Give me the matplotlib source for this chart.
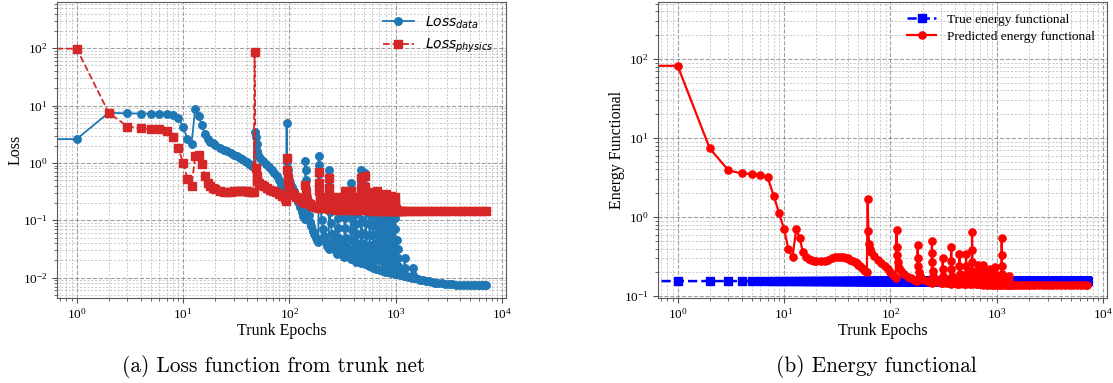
import numpy as np
import matplotlib
matplotlib.use("Agg")
import matplotlib.pyplot as plt
from matplotlib.font_manager import FontProperties

plt.rcParams['font.family'] = ['Liberation Serif', 'DejaVu Serif']
plt.rcParams['mathtext.fontset'] = 'stix'

# ---------------- data (epoch, value) ----------------
# Loss_data (left panel, blue)
loss_data_early = [(0, 2.6), (1, 2.6), (2, 7.5), (3, 7.3), (4, 7.25), (5, 7.25), (6, 7.2), (7, 7.2),
                   (8, 6.9), (9, 6.1), (10, 4.3), (11, 2.6), (12, 2.17), (13, 8.7), (14, 6.6),
                   (15, 4.5), (16, 3.2), (17, 2.6), (18, 2.3), (19, 2.2), (20, 2.05), (22, 1.85),
                   (24, 1.7), (26, 1.58), (28, 1.47), (30, 1.38), (32, 1.3), (34, 1.22), (36, 1.15),
                   (38, 1.08), (40, 1.02), (42, 0.96), (44, 0.9), (46, 0.84)]
loss_data_mid = [(47, 3.5), (48, 2.8), (49, 2.15), (50, 1.6), (51, 1.35), (53, 1.2), (56, 1.07),
                 (60, 0.95), (64, 0.85), (68, 0.75), (72, 0.66), (76, 0.58), (80, 0.5), (84, 0.42),
                 (88, 0.35), (91, 0.3), (93, 0.27),
                 (94, 4.9), (95, 1.05), (96, 0.75), (97, 0.62), (99, 0.5), (102, 0.44), (106, 0.38),
                 (110, 0.32), (115, 0.26), (120, 0.21), (125, 0.17), (130, 0.14), (135, 0.12), (140, 0.105)]
loss_data_cycles = [
    (141, 1.1), (142, 0.74), (143, 0.5), (144, 0.36), (146, 0.25), (149, 0.17), (152, 0.125), (156, 0.095),
    (160, 0.078), (165, 0.066), (170, 0.057), (176, 0.05), (182, 0.045), (187, 0.041),
    (188, 1.34), (189, 0.93), (190, 0.63), (191, 0.42), (193, 0.26), (196, 0.16), (200, 0.1), (205, 0.07),
    (211, 0.053), (218, 0.043), (226, 0.036), (234, 0.031),
    (235, 0.74), (236, 0.5), (237, 0.33), (238, 0.22), (240, 0.14), (244, 0.088), (250, 0.058), (257, 0.043),
    (265, 0.034), (273, 0.029), (281, 0.026),
    (282, 0.25), (283, 0.16), (284, 0.11), (286, 0.072), (290, 0.05), (296, 0.038), (304, 0.031),
    (315, 0.026), (328, 0.023),
    (329, 0.26), (330, 0.17), (331, 0.11), (333, 0.072), (337, 0.049), (343, 0.036), (352, 0.028),
    (364, 0.024), (375, 0.021),
    (376, 0.44), (377, 0.28), (378, 0.18), (380, 0.11), (384, 0.068), (390, 0.045), (398, 0.032),
    (409, 0.025), (422, 0.019),
    (423, 0.2), (424, 0.13), (426, 0.085), (429, 0.057), (434, 0.04), (442, 0.029), (455, 0.022), (469, 0.018),
    (470, 0.75), (471, 0.46), (472, 0.29), (474, 0.17), (477, 0.1), (482, 0.06), (490, 0.039), (500, 0.028),
    (508, 0.021), (516, 0.0172),
    (517, 0.68), (518, 0.41), (519, 0.26), (521, 0.15), (524, 0.09), (529, 0.055), (537, 0.036),
    (548, 0.025), (563, 0.016),
    (564, 0.2), (565, 0.13), (567, 0.085), (570, 0.056), (576, 0.037), (585, 0.026), (598, 0.019), (610, 0.015),
    (611, 0.12), (612, 0.08), (614, 0.055), (618, 0.039), (625, 0.028), (636, 0.021), (657, 0.0142),
    (658, 0.22), (659, 0.14), (661, 0.09), (664, 0.058), (669, 0.04), (677, 0.028), (690, 0.02), (704, 0.0135),
    (705, 0.15), (706, 0.1), (708, 0.066), (712, 0.044), (719, 0.031), (731, 0.022), (751, 0.013),
    (752, 0.12), (753, 0.08), (756, 0.054), (761, 0.037), (770, 0.026), (784, 0.018), (798, 0.0127),
    (799, 0.13), (800, 0.085), (803, 0.056), (808, 0.038), (817, 0.026), (831, 0.018), (845, 0.0124),
    (846, 0.12), (847, 0.079), (850, 0.052), (856, 0.036), (866, 0.025), (880, 0.017), (892, 0.012),
    (893, 0.1), (894, 0.067), (897, 0.045), (903, 0.032), (913, 0.023), (927, 0.016), (939, 0.0118),
    (940, 0.11), (941, 0.072), (944, 0.048), (950, 0.033), (960, 0.023), (974, 0.016), (986, 0.0116),
    (987, 0.11), (988, 0.07), (991, 0.046), (997, 0.031), (1007, 0.022), (1020, 0.015), (1033, 0.0114),
    (1034, 0.046), (1036, 0.031), (1040, 0.022), (1050, 0.016), (1065, 0.0128), (1090, 0.0112)]
loss_data_tail = [(1150, 0.011), (1200, 0.0108), (1210, 0.022), (1212, 0.015), (1220, 0.0112),
                  (1250, 0.0106), (1300, 0.0104), (1350, 0.0102), (1420, 0.0099), (1440, 0.0145),
                  (1445, 0.011), (1500, 0.0097), (1600, 0.0094), (1700, 0.0092), (1800, 0.009),
                  (1900, 0.0088), (2050, 0.0086), (2200, 0.0084), (2350, 0.0082), (2500, 0.0081),
                  (2700, 0.0079), (2900, 0.0078), (3150, 0.0077), (3400, 0.0076), (3700, 0.0075),
                  (4000, 0.0075), (4400, 0.0074), (4800, 0.0074), (5200, 0.0073), (5600, 0.0073),
                  (6000, 0.0073), (6400, 0.0073), (6800, 0.0073), (7100, 0.0073)]

# Loss_physics (left panel, red)
loss_phys_early = [(0, 98), (1, 98), (2, 7.5), (3, 4.3), (4, 4.0), (5, 3.9), (6, 3.85), (7, 3.66),
                   (8, 2.88), (9, 1.85), (10, 1.01), (11, 0.53), (12, 0.39), (13, 1.32), (14, 1.38),
                   (15, 0.96), (16, 0.6), (17, 0.45), (18, 0.4), (19, 0.37), (20, 0.345), (22, 0.33),
                   (24, 0.315), (26, 0.31), (28, 0.312), (30, 0.318), (32, 0.322), (34, 0.325),
                   (36, 0.325), (38, 0.322), (40, 0.318), (42, 0.314), (44, 0.31), (46, 0.305)]
loss_phys_mid = [(47, 85), (48, 0.82), (49, 0.6), (50, 0.5), (52, 0.45), (55, 0.41), (58, 0.39),
                 (62, 0.36), (66, 0.34), (70, 0.33), (75, 0.31), (80, 0.29), (85, 0.26), (90, 0.24),
                 (93, 0.22),
                 (94, 1.22), (95, 0.76), (96, 0.55), (97, 0.45), (99, 0.38), (102, 0.33), (106, 0.3),
                 (110, 0.28), (116, 0.255), (122, 0.24), (128, 0.225), (134, 0.21), (140, 0.2)]
loss_phys_cycles = [
    (141, 0.42), (142, 0.3), (143, 0.25), (145, 0.22), (150, 0.2), (156, 0.19), (163, 0.18), (170, 0.175),
    (178, 0.17), (187, 0.165),
    (188, 0.7), (189, 0.45), (190, 0.32), (192, 0.25), (195, 0.21), (200, 0.19), (207, 0.175), (215, 0.167),
    (224, 0.161), (234, 0.157),
    (235, 0.55), (236, 0.36), (237, 0.27), (239, 0.22), (243, 0.19), (250, 0.172), (258, 0.163),
    (268, 0.157), (281, 0.153),
    (282, 0.25), (283, 0.2), (285, 0.18), (290, 0.166), (298, 0.158), (310, 0.153), (328, 0.15),
    (329, 0.32), (330, 0.24), (332, 0.2), (336, 0.175), (343, 0.162), (355, 0.155), (375, 0.15),
    (376, 0.32), (377, 0.24), (379, 0.2), (383, 0.175), (390, 0.162), (402, 0.155), (422, 0.149),
    (423, 0.25), (424, 0.2), (426, 0.18), (431, 0.165), (440, 0.156), (455, 0.151), (469, 0.148),
    (470, 0.54), (471, 0.36), (472, 0.27), (474, 0.22), (478, 0.185), (485, 0.167), (496, 0.157), (516, 0.15),
    (517, 0.58), (518, 0.38), (519, 0.28), (521, 0.22), (525, 0.185), (532, 0.166), (545, 0.156), (563, 0.149),
    (564, 0.22), (565, 0.19), (568, 0.17), (575, 0.158), (588, 0.151), (610, 0.147),
    (611, 0.31), (612, 0.23), (614, 0.19), (618, 0.172), (626, 0.16), (640, 0.152), (657, 0.147),
    (658, 0.33), (659, 0.24), (661, 0.2), (665, 0.175), (673, 0.161), (687, 0.152), (704, 0.146),
    (705, 0.22), (706, 0.19), (709, 0.17), (716, 0.157), (730, 0.15), (751, 0.146),
    (752, 0.22), (753, 0.19), (756, 0.17), (763, 0.157), (777, 0.15), (798, 0.145),
    (799, 0.29), (800, 0.22), (802, 0.185), (807, 0.168), (816, 0.157), (830, 0.15), (845, 0.145),
    (846, 0.2), (847, 0.18), (850, 0.165), (858, 0.154), (873, 0.148), (892, 0.145),
    (893, 0.27), (894, 0.21), (896, 0.18), (901, 0.165), (911, 0.155), (925, 0.149), (939, 0.145),
    (940, 0.2), (941, 0.18), (944, 0.165), (952, 0.154), (967, 0.148), (986, 0.145),
    (987, 0.25), (988, 0.2), (990, 0.175), (996, 0.16), (1007, 0.151), (1020, 0.147), (1033, 0.145)]
loss_phys_tail = [(1060, 0.144), (1100, 0.144), (1150, 0.144), (1200, 0.143), (1300, 0.143),
                  (1420, 0.143), (1550, 0.143), (1700, 0.143), (1850, 0.143), (2050, 0.143),
                  (2250, 0.143), (2500, 0.143), (2750, 0.143), (3050, 0.143), (3400, 0.143),
                  (3800, 0.143), (4200, 0.143), (4700, 0.143), (5200, 0.143), (5800, 0.143),
                  (6400, 0.143), (7100, 0.143)]

# Energy functional (right panel)
true_energy_value = 0.155
true_energy_last_epoch = 7100
pred_energy_early = [(0, 82), (1, 82), (2, 7.4), (3, 3.9), (4, 3.57), (5, 3.5), (6, 3.4), (7, 3.18),
                     (8, 1.85), (9, 1.11), (10, 0.7), (11, 0.39), (12, 0.31), (13, 0.7), (14, 0.55),
                     (15, 0.36), (16, 0.315), (17, 0.295), (18, 0.285), (19, 0.28), (20, 0.275),
                     (22, 0.275), (24, 0.28), (26, 0.29), (28, 0.3), (30, 0.31), (32, 0.315), (34, 0.315),
                     (36, 0.31), (38, 0.305), (40, 0.3), (42, 0.29), (44, 0.28), (46, 0.27), (48, 0.26),
                     (50, 0.25), (52, 0.24), (54, 0.228), (56, 0.215), (58, 0.205), (60, 0.2)]
pred_energy_cycles = [
    (61, 1.7), (62, 0.67), (63, 0.46), (64, 0.4), (66, 0.36), (70, 0.32), (76, 0.286), (82, 0.26),
    (88, 0.24), (94, 0.22), (100, 0.2), (106, 0.185), (112, 0.17),
    (114, 0.68), (115, 0.42), (116, 0.33), (118, 0.27), (121, 0.23), (126, 0.21), (135, 0.19), (145, 0.176),
    (155, 0.168), (165, 0.162), (175, 0.158), (179, 0.156),
    (180, 0.44), (181, 0.3), (182, 0.24), (184, 0.2), (188, 0.18), (195, 0.168), (205, 0.16), (220, 0.154),
    (235, 0.15), (244, 0.148),
    (245, 0.5), (246, 0.35), (247, 0.27), (249, 0.21), (253, 0.18), (260, 0.165), (270, 0.157), (285, 0.151),
    (300, 0.147), (309, 0.146),
    (310, 0.3), (311, 0.22), (313, 0.18), (317, 0.162), (325, 0.153), (340, 0.147), (355, 0.145), (371, 0.144),
    (372, 0.42), (373, 0.28), (374, 0.22), (376, 0.18), (380, 0.162), (390, 0.152), (405, 0.147),
    (425, 0.144), (443, 0.143),
    (444, 0.34), (445, 0.24), (447, 0.19), (450, 0.168), (458, 0.155), (472, 0.148), (490, 0.144), (512, 0.142),
    (513, 0.34), (514, 0.24), (516, 0.19), (520, 0.165), (528, 0.153), (542, 0.147), (560, 0.143), (583, 0.141),
    (584, 0.65), (585, 0.38), (586, 0.27), (588, 0.21), (592, 0.175), (600, 0.158), (615, 0.149),
    (635, 0.144), (659, 0.141),
    (660, 0.25), (661, 0.2), (663, 0.17), (668, 0.155), (678, 0.147), (695, 0.143), (715, 0.141), (735, 0.14),
    (736, 0.25), (737, 0.2), (739, 0.17), (745, 0.155), (757, 0.147), (775, 0.143), (804, 0.14),
    (805, 0.2), (806, 0.17), (810, 0.155), (820, 0.146), (840, 0.141), (869, 0.139),
    (870, 0.22), (871, 0.18), (874, 0.16), (880, 0.15), (895, 0.143), (920, 0.14), (965, 0.139),
    (966, 0.235), (967, 0.19), (970, 0.165), (978, 0.152), (995, 0.145), (1030, 0.14), (1070, 0.138),
    (1109, 0.138),
    (1110, 0.54), (1111, 0.33), (1112, 0.24), (1115, 0.19), (1120, 0.165), (1135, 0.15), (1160, 0.143),
    (1200, 0.14), (1250, 0.138), (1309, 0.137),
    (1310, 0.18), (1312, 0.155), (1320, 0.145), (1340, 0.14), (1380, 0.138)]
pred_energy_tail = [(1450, 0.137), (1550, 0.137), (1650, 0.137), (1750, 0.137), (1880, 0.137),
                    (2000, 0.137), (2150, 0.137), (2300, 0.137), (2500, 0.137), (2700, 0.137),
                    (2900, 0.137), (3150, 0.137), (3400, 0.137), (3700, 0.137), (4000, 0.137),
                    (4400, 0.137), (4800, 0.137), (5200, 0.137), (5700, 0.137), (6200, 0.137),
                    (6700, 0.137), (7100, 0.137)]

captions = ['(a) Loss function from trunk net', '(b) Energy functional']


def xy(*segments):
    pts = [p for seg in segments for p in seg]
    return np.array([p[0] for p in pts], float), np.array([p[1] for p in pts], float)


ld_x, ld_y = xy(loss_data_early, loss_data_mid, loss_data_cycles, loss_data_tail)
lp_x, lp_y = xy(loss_phys_early, loss_phys_mid, loss_phys_cycles, loss_phys_tail)
pe_x, pe_y = xy(pred_energy_early, pred_energy_cycles, pred_energy_tail)
te_x = np.arange(0, true_energy_last_epoch + 1)
te_y = np.full(te_x.shape, true_energy_value)

# ---------------- figure ----------------
W, H = 1113, 383
fig = plt.figure(figsize=(W / 100, H / 100), dpi=100)
ax_w, ax_h = 449 / W, 296 / H
ax_b = (H - 297.7) / H
ax1 = fig.add_axes([57 / W, ax_b, ax_w, ax_h])
ax2 = fig.add_axes([658 / W, ax_b, ax_w, ax_h])

ax1.plot(ld_x, ld_y, '-o', color='tab:blue', ms=5.4, lw=1.3, label=r'$Loss_{data}$')
ax1.plot(lp_x, lp_y, '--s', color='tab:red', ms=5.4, lw=1.3, label=r'$Loss_{physics}$')

ax2.plot(te_x, te_y, '--s', color='blue', ms=5.4, lw=1.8, label='True energy functional')
ax2.plot(pe_x, pe_y, '-o', color='red', ms=5.2, lw=1.6, label='Predicted energy functional')

for ax in (ax1, ax2):
    ax.set_xscale('log')
    ax.set_yscale('log')
    ax.set_xlim(10 ** -0.185, 10 ** 4.035)
    ax.grid(True, which='major', linestyle='--', color='0.5', alpha=0.75, lw=0.8)
    ax.grid(True, which='minor', linestyle=(0, (2.5, 2)), color='0.6', alpha=0.6, lw=0.6)
    ax.set_axisbelow(True)
    for s in ax.spines.values():
        s.set_color('0.35')
    ax.tick_params(which='both', colors='0.3', labelcolor='black', labelsize=9.5)
    ax.set_xlabel('Trunk Epochs', fontsize=11.5, labelpad=1)

ax1.set_ylim(10 ** -2.35, 10 ** 2.81)
ax2.set_ylim(10 ** -1.02, 10 ** 2.725)
ax1.set_ylabel('Loss', fontsize=11.5, labelpad=-1)
ax2.set_ylabel('Energy Functional', fontsize=11.5, labelpad=-1)

ax1.legend(loc='upper right', frameon=False, labelspacing=0.45, handlelength=2.2,
           prop=FontProperties(family='DejaVu Sans', size=10, math_fontfamily='dejavusans'))
ax2.legend(loc='upper right', frameon=False, fontsize=9.6, labelspacing=0.35, handlelength=2.2)

fig.text(274 / W, 1 - 366 / H, captions[0], ha='center', va='center', fontsize=15.3, family='cmr10')
fig.text(876 / W, 1 - 366 / H, captions[1], ha='center', va='center', fontsize=15.3, family='cmr10')

fig.savefig('out.png', dpi=100)
